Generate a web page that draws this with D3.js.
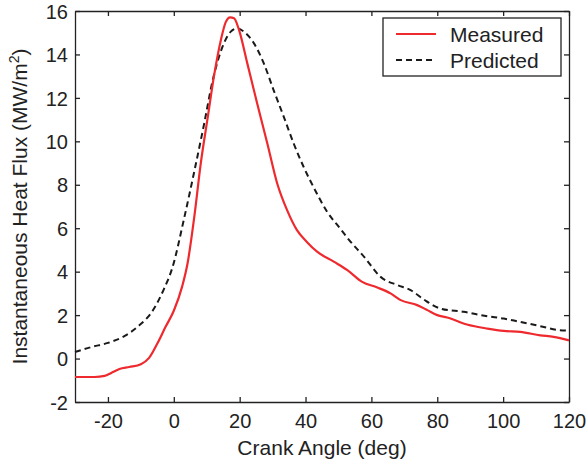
<!DOCTYPE html>
<html>
<head>
<meta charset="utf-8">
<script src="https://cdn.jsdelivr.net/npm/d3@7"></script>
<style>
  body { margin: 0; background: #fff; }
  text { font-family: "Liberation Sans", Arial, Helvetica, sans-serif; fill: #222; }
  .axis path, .axis line { stroke: #222; stroke-width: 1.3; }
</style>
</head>
<body>
<svg width="587" height="464"></svg>
<script>
// values (crank angle in deg, heat flux in MW/m2)
var measuredAngle = [-30, -24, -21, -19, -16.5, -13.5, -10, -7.5, -5, -2.5, 0, 2.5, 4.2, 6.2, 8.2, 10.3,
  12.2, 14.3, 15.8, 17.1, 18.3, 19.8, 22.3, 25.3, 28.4, 31.4, 34.4, 37.4, 40.4, 43.6, 48.7, 52.7,
  57.2, 61.8, 65.8, 68.9, 73.9, 77, 80, 83, 89, 95.2, 100.2, 105.2, 111.3, 115.3, 120];
var measuredFlux = [-0.85, -0.85, -0.8, -0.66, -0.48, -0.39, -0.26, 0.03, 0.69, 1.46, 2.2, 3.3, 4.4, 6.5, 9.0, 11.1,
  13.0, 14.67, 15.5, 15.71, 15.67, 15.13, 13.6, 11.75, 9.9, 8.06, 6.83, 5.91, 5.37, 4.91, 4.45, 4.07,
  3.53, 3.27, 3.0, 2.69, 2.46, 2.23, 2.0, 1.89, 1.57, 1.38, 1.27, 1.23, 1.07, 1.0, 0.84];

var predictedAngle = [-30, -25, -20, -15, -11, -6, -3, -0.5, 3.2, 6.2, 9.2, 11.8, 14.8, 17.3, 19.3, 21.3,
  24.3, 27.3, 30.3, 33.4, 36.4, 39.4, 42.4, 46.6, 50.7, 53, 57.8, 62.8, 67.9, 71.9, 75.9, 81,
  88, 95.2, 100.2, 104.2, 111.3, 116.4, 120];
var predictedFlux = [0.3, 0.53, 0.72, 1.03, 1.46, 2.3, 3.2, 4.15, 6.5, 8.6, 10.8, 12.8, 14.36, 15.05, 15.2, 15.05,
  14.52, 13.6, 12.36, 11.13, 9.9, 8.83, 7.9, 6.75, 5.95, 5.5, 4.68, 3.76, 3.38, 3.15, 2.72, 2.3,
  2.15, 1.95, 1.84, 1.72, 1.49, 1.32, 1.29];

var xTicks = [-20, 0, 20, 40, 60, 80, 100, 120];
var yTicks = [-2, 0, 2, 4, 6, 8, 10, 12, 14, 16];

var svg = d3.select("svg"),
    margin = {top: 11, right: 18, bottom: 62, left: 75},
    width = +svg.attr("width") - margin.left - margin.right,
    height = +svg.attr("height") - margin.top - margin.bottom;

var x = d3.scaleLinear().domain([-30, 120]).range([0, width]),
    y = d3.scaleLinear().domain([-2, 16]).range([height, 0]);

// plain hyphen for negatives, like the original figure
var plain = function(d) { return String(d); };

var g = svg.append("g")
    .attr("transform", "translate(" + margin.left + "," + margin.top + ")");

// axes with ticks pointing inward, mirrored on top and right
g.append("g")
    .attr("class", "axis")
    .attr("transform", "translate(0," + height + ")")
    .call(d3.axisBottom(x).tickValues(xTicks).tickFormat(plain).tickSizeInner(-5).tickSizeOuter(0).tickPadding(12))
    .call(function(s) { s.selectAll("text").attr("font-size", 20).style("fill", "#222"); });

g.append("g")
    .attr("class", "axis")
    .call(d3.axisLeft(y).tickValues(yTicks).tickFormat(plain).tickSizeInner(-5).tickSizeOuter(0).tickPadding(7))
    .call(function(s) { s.selectAll("text").attr("font-size", 20).attr("dy", "0.36em").style("fill", "#222"); });

g.append("g")
    .attr("class", "axis")
    .call(d3.axisTop(x).tickValues(xTicks).tickSizeInner(-5).tickSizeOuter(0).tickFormat(""));

g.append("g")
    .attr("class", "axis")
    .attr("transform", "translate(" + width + ",0)")
    .call(d3.axisRight(y).tickValues(yTicks).tickSizeInner(-5).tickSizeOuter(0).tickFormat(""));

// the curves
var line = d3.line()
    .x(function(d) { return x(d[0]); })
    .y(function(d) { return y(d[1]); })
    .curve(d3.curveMonotoneX);

g.append("path")
    .datum(d3.zip(predictedAngle, predictedFlux))
    .attr("fill", "none")
    .attr("stroke", "#1a1a1a")
    .attr("stroke-width", 2)
    .attr("stroke-dasharray", "6,4")
    .attr("d", line);

g.append("path")
    .datum(d3.zip(measuredAngle, measuredFlux))
    .attr("fill", "none")
    .attr("stroke", "#ee2a2e")
    .attr("stroke-width", 2.2)
    .attr("d", line);

// axis titles
svg.append("text")
    .attr("x", margin.left + width / 2)
    .attr("y", 455)
    .attr("text-anchor", "middle")
    .attr("font-size", 21)
    .text("Crank Angle (deg)");

var ylab = svg.append("text")
    .attr("transform", "translate(27," + (margin.top + height / 2) + ") rotate(-90)")
    .attr("text-anchor", "middle")
    .attr("font-size", 21)
    .text("Instantaneous Heat Flux (MW/m");
ylab.append("tspan").attr("font-size", 14).attr("dy", -8).text("2");
ylab.append("tspan").attr("dy", 8).text(")");

// legend
var legend = svg.append("g").attr("transform", "translate(383,18)");
legend.append("rect")
    .attr("width", 178).attr("height", 58)
    .attr("fill", "#fff").attr("stroke", "#222").attr("stroke-width", 1.3);

var items = [
  {name: "Measured", color: "#ee2a2e", dash: null},
  {name: "Predicted", color: "#1a1a1a", dash: "6,4"}
];
items.forEach(function(d, i) {
  var yy = 16 + i * 26;
  legend.append("line")
      .attr("x1", 13).attr("x2", 53).attr("y1", yy).attr("y2", yy)
      .attr("stroke", d.color).attr("stroke-width", 2)
      .attr("stroke-dasharray", d.dash);
  legend.append("text")
      .attr("x", 67).attr("y", yy + 7.5)
      .attr("font-size", 21)
      .text(d.name);
});
</script>
</body>
</html>
